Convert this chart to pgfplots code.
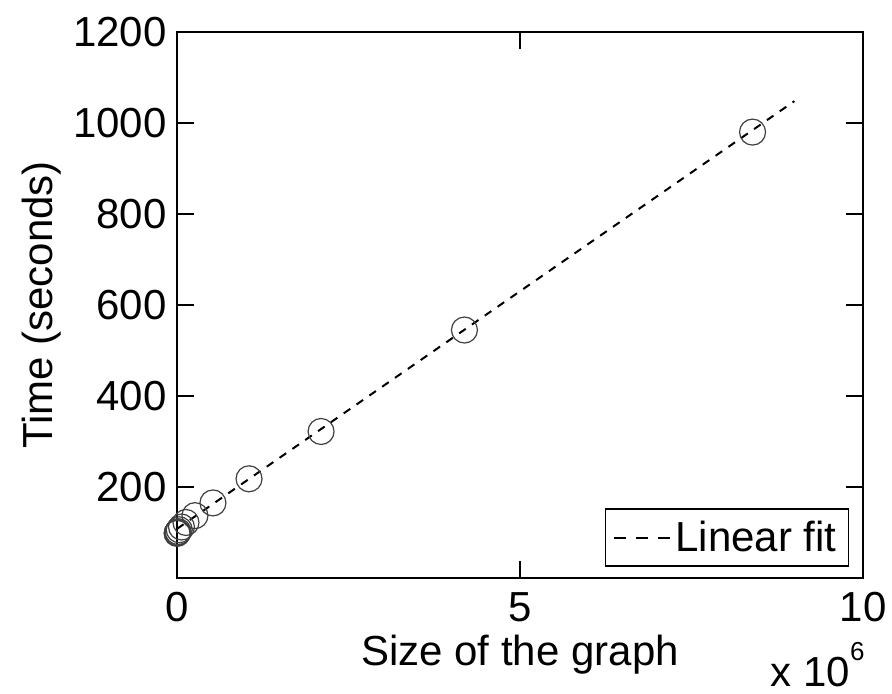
\documentclass[border=0pt]{standalone}
\usepackage{fontspec}
\setmainfont{Liberation Sans}
\usepackage{pgfplots}
\pgfplotsset{compat=1.18}
\newcommand{\bigf}{\fontsize{21}{25}\selectfont}
\begin{document}
\begin{tikzpicture}
\begin{axis}[
  at={(0,0)}, anchor=south west,
  scale only axis, width=343pt, height=273pt,
  xmin=0, xmax=10, ymin=0, ymax=1200,
  xtick={0,5,10}, ytick={200,400,...,1200},
  tick align=inside, major tick length=8.5pt,
  axis line style={line width=0.9pt},
  every tick/.style={black, line width=0.9pt},
  /pgf/number format/assume math mode=true,
  /pgf/number format/1000 sep={},
  tick label style={font=\bigf},
  yticklabel style={inner sep=0pt, xshift=-5pt},
  xticklabel style={inner sep=0pt, yshift=-7pt},
  xlabel={Size of the graph},
  ylabel={Time (seconds)},
  label style={font=\bigf},
  xlabel style={at={(axis description cs:0.5,-0.161)}, anchor=base, inner sep=0pt},
  ylabel style={at={(axis description cs:-0.182,0.5)}, anchor=base, inner sep=0pt},
  legend style={at={(axis description cs:0.980,0.020)}, anchor=south east,
    draw=black, line width=0.8pt, font=\bigf, inner xsep=4pt, inner ysep=4pt},
  legend cell align=left,
  clip=false,
]
\addplot[only marks, mark=o, mark size=6.5pt, mark options={draw=black!75, line width=0.6pt}, forget plot]
coordinates {
(8.39,980) (4.19,545) (2.10,322) (1.05,218) (0.524,165) (0.262,137)
(0.131,122) (0.0655,112) (0.0328,106) (0.0164,102) (0.0082,100)
(0.0041,99) (0.0020,98)
};
\addplot[black, line width=1pt, dash pattern=on 4pt off 3.8pt,
  legend image code/.code={\draw[black, line width=1pt, dash pattern=on 6pt off 5pt] (0pt,0pt) -- (28pt,0pt);}]
coordinates {(0,108) (9,1048)};
\addlegendentry{Linear fit}
\node[anchor=base east, inner sep=0pt, font=\bigf] at (axis description cs:1.003,-0.198)
  {x 10\raisebox{13pt}{\fontsize{13}{13}\selectfont 6}};
\end{axis}
\pgfresetboundingbox
\path[use as bounding box] (-88.5pt,-58pt) rectangle (357.5pt,289pt);
\end{tikzpicture}
\end{document}
